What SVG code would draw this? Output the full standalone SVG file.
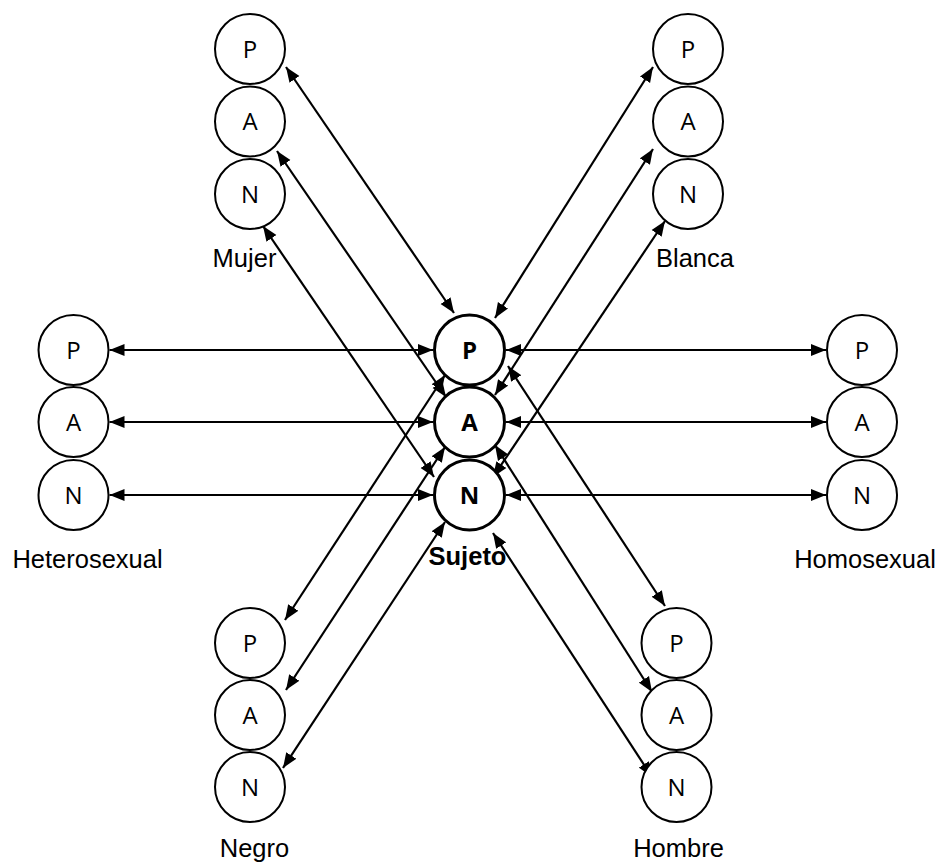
<svg xmlns="http://www.w3.org/2000/svg" width="941" height="863" viewBox="0 0 941 863">
<style>
.c{fill:#fff;stroke:#000;stroke-width:2}
.cc{fill:#fff;stroke:#000;stroke-width:3}
.l{font-family:"Open Sans","DejaVu Sans",sans-serif;font-size:24px;text-anchor:middle;fill:#000}
.lb{font-family:"Open Sans","DejaVu Sans",sans-serif;font-size:24px;font-weight:bold;text-anchor:middle;fill:#000}
.t{font-family:"Liberation Sans",Arial,sans-serif;font-size:25.5px;text-anchor:middle;fill:#000}
.tb{font-family:"Liberation Sans",Arial,sans-serif;font-size:25.5px;font-weight:bold;text-anchor:middle;fill:#000}
.e{stroke:#000;stroke-width:2.2;fill:none;marker-start:url(#ah);marker-end:url(#ah)}
</style>
<defs>
<marker id="ah" markerUnits="userSpaceOnUse" markerWidth="16" markerHeight="13" refX="15" refY="6" orient="auto-start-reverse" viewBox="0 0 16 12">
<path d="M0,0 L15,6 L0,12 z" fill="#000"/>
</marker>
</defs>
<rect width="941" height="863" fill="#fff"/>
<g id="connectors">
<line class="e" x1="109.5" y1="350" x2="433" y2="350"/>
<line class="e" x1="109.5" y1="422" x2="433" y2="422"/>
<line class="e" x1="109.5" y1="495" x2="433" y2="495"/>
<line class="e" x1="506" y1="350" x2="826" y2="350"/>
<line class="e" x1="506" y1="422" x2="826" y2="422"/>
<line class="e" x1="506" y1="495" x2="826" y2="495"/>
<line class="e" x1="286" y1="67" x2="454" y2="313"/>
<line class="e" x1="277" y1="151" x2="446" y2="397"/>
<line class="e" x1="263" y1="226" x2="434" y2="477"/>
<line class="e" x1="653" y1="67" x2="495" y2="318"/>
<line class="e" x1="653" y1="149" x2="495" y2="395"/>
<line class="e" x1="665" y1="221" x2="493" y2="477"/>
<line class="e" x1="285" y1="620" x2="445" y2="375"/>
<line class="e" x1="286" y1="690" x2="445" y2="447"/>
<line class="e" x1="283" y1="768" x2="445" y2="522"/>
<line class="e" x1="665" y1="606" x2="508" y2="366"/>
<line class="e" x1="652" y1="692" x2="495" y2="445"/>
<line class="e" x1="652" y1="777" x2="493" y2="533"/>
</g>
<g id="sujeto">
<circle class="cc" cx="469.5" cy="350" r="35"/><text class="lb" x="469.5" y="358.5">P</text>
<circle class="cc" cx="469.5" cy="422" r="35"/><text class="lb" x="469.5" y="430.5">A</text>
<circle class="cc" cx="469.5" cy="495" r="35"/><text class="lb" x="469.5" y="503.5">N</text>
<text class="tb" x="467.5" y="565">Sujeto</text>
</g>
<g id="mujer">
<circle class="c" cx="250" cy="49" r="35"/><text class="l" x="250" y="57.5">P</text>
<circle class="c" cx="250" cy="121.5" r="35"/><text class="l" x="250" y="130">A</text>
<circle class="c" cx="250" cy="194" r="35"/><text class="l" x="250" y="202.5">N</text>
<text class="t" x="244.5" y="267">Mujer</text>
</g>
<g id="blanca">
<circle class="c" cx="688" cy="49" r="35"/><text class="l" x="688" y="57.5">P</text>
<circle class="c" cx="688" cy="121.5" r="35"/><text class="l" x="688" y="130">A</text>
<circle class="c" cx="688" cy="194" r="35"/><text class="l" x="688" y="202.5">N</text>
<text class="t" x="695" y="267">Blanca</text>
</g>
<g id="heterosexual">
<circle class="c" cx="73.5" cy="350" r="35"/><text class="l" x="73.5" y="358.5">P</text>
<circle class="c" cx="73.5" cy="422" r="35"/><text class="l" x="73.5" y="430.5">A</text>
<circle class="c" cx="73.5" cy="495" r="35"/><text class="l" x="73.5" y="503.5">N</text>
<text class="t" x="87.5" y="568">Heterosexual</text>
</g>
<g id="homosexual">
<circle class="c" cx="862" cy="350" r="35"/><text class="l" x="862" y="358.5">P</text>
<circle class="c" cx="862" cy="422" r="35"/><text class="l" x="862" y="430.5">A</text>
<circle class="c" cx="862" cy="495" r="35"/><text class="l" x="862" y="503.5">N</text>
<text class="t" x="865" y="568">Homosexual</text>
</g>
<g id="negro">
<circle class="c" cx="250" cy="643" r="35"/><text class="l" x="250" y="651.5">P</text>
<circle class="c" cx="250" cy="715" r="35"/><text class="l" x="250" y="723.5">A</text>
<circle class="c" cx="250" cy="787" r="35"/><text class="l" x="250" y="795.5">N</text>
<text class="t" x="254.5" y="857">Negro</text>
</g>
<g id="hombre">
<circle class="c" cx="676.5" cy="643" r="35"/><text class="l" x="676.5" y="651.5">P</text>
<circle class="c" cx="676.5" cy="715" r="35"/><text class="l" x="676.5" y="723.5">A</text>
<circle class="c" cx="676.5" cy="787" r="35"/><text class="l" x="676.5" y="795.5">N</text>
<text class="t" x="678.5" y="857">Hombre</text>
</g>
</svg>
